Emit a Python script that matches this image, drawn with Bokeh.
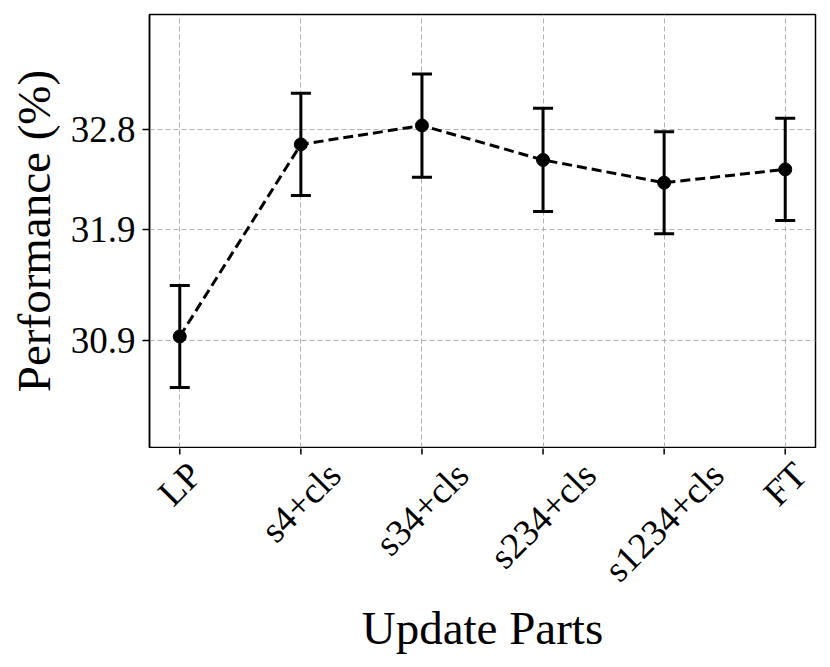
import math
from bokeh.plotting import figure
from bokeh.layouts import column
from bokeh.models import (ColumnDataSource, Range1d, FixedTicker, Whisker, TeeHead,
                          CustomLabelingPolicy)
from bokeh.core.properties import value
from bokeh.embed import file_html
from bokeh.resources import INLINE

# ---- data ----
parts = ["LP", "s4+cls", "s34+cls", "s234+cls", "s1234+cls", "FT"]
performance = [30.935, 32.665, 32.835, 32.525, 32.32, 32.44]
errors = [0.46, 0.46, 0.465, 0.465, 0.46, 0.46]
y_ticks = [30.9, 31.9, 32.8]

FONT = "Liberation Serif"
TICK_FS = 37
LABEL_FS = 47
W = 830
H1 = 448
H2 = 219
TICK_LEN = 7

xs = list(range(len(parts)))
upper = [m + e for m, e in zip(performance, errors)]
lower = [m - e for m, e in zip(performance, errors)]
y_lo = min(performance) - 1.0
y_hi = max(performance) + 1.0

hide_all = CustomLabelingPolicy(code="""
for (const i of indices) indices.unset(i)
return indices
""")

# ---------------- main plot ----------------
p = figure(width=W, height=H1, output_backend="svg", toolbar_location=None,
           x_range=Range1d(-0.25, len(parts) - 1 + 0.25),
           y_range=Range1d(y_lo, y_hi),
           min_border_left=149, min_border_right=15, min_border_top=14,
           min_border_bottom=1)
p.background_fill_color = "white"
p.border_fill_color = "white"
p.outline_line_color = "black"
p.outline_line_width = 1.5

for g in (p.xgrid, p.ygrid):
    g.grid_line_color = "#b0b0b0"
    g.grid_line_dash = "5 3"
    g.grid_line_width = 1

p.xaxis.ticker = FixedTicker(ticks=xs)
p.xaxis.visible = False          # ticks + labels are drawn in the strip below
p.yaxis.ticker = FixedTicker(ticks=y_ticks)
ax = p.yaxis
ax.axis_line_color = "black"
ax.axis_line_width = 1.5
ax.major_tick_line_color = "black"
ax.major_tick_line_width = 1.5
ax.major_tick_out = TICK_LEN
ax.major_tick_in = 0
ax.minor_tick_line_color = None
ax.major_label_text_font = FONT
ax.major_label_text_color = "black"
ax.major_label_text_font_size = f"{TICK_FS}px"
ax.major_label_standoff = 7
ax.axis_label = "Performance (%)"
ax.axis_label_text_font = FONT
ax.axis_label_text_font_size = f"{LABEL_FS}px"
ax.axis_label_text_font_style = "normal"
ax.axis_label_text_color = "black"
ax.axis_label_standoff = 8

src = ColumnDataSource(dict(x=xs, y=performance, upper=upper, lower=lower))
whisk = Whisker(base="x", upper="upper", lower="lower", source=src,
                line_color="black", line_width=3,
                upper_head=TeeHead(size=20, line_width=3, line_color="black"),
                lower_head=TeeHead(size=20, line_width=3, line_color="black"))
whisk.level = "glyph"
p.add_layout(whisk)
p.line("x", "y", source=src, line_color="black", line_width=3, line_dash="10 5")
p.scatter("x", "y", source=src, size=13, color="black")

# ---------------- x tick strip (shares the x scale; y in pixels from top) ----------------
B2 = 72
frame2 = H2 - B2
p2 = figure(width=W, height=H2, output_backend="svg", toolbar_location=None,
            x_range=p.x_range, y_range=Range1d(-frame2, 0), y_axis_type=None,
            min_border_left=149, min_border_right=15, min_border_top=0,
            min_border_bottom=B2)
p2.background_fill_color = "white"
p2.border_fill_color = "white"
p2.outline_line_color = None
p2.grid.visible = False
p2.xaxis.ticker = FixedTicker(ticks=[])
p2.xaxis.axis_line_color = None
p2.xaxis.major_tick_line_color = None
p2.xaxis.minor_tick_line_color = None
p2.xaxis.major_label_policy = hide_all
p2.xaxis.axis_label = "Update Parts"
p2.xaxis.axis_label_text_font = FONT
p2.xaxis.axis_label_text_font_size = f"{LABEL_FS}px"
p2.xaxis.axis_label_text_font_style = "normal"
p2.xaxis.axis_label_text_color = "black"
p2.xaxis.axis_label_standoff = 6

# tick marks under the main frame
p2.segment(x0=xs, y0=[1] * len(xs), x1=xs, y1=[-(TICK_LEN - 1)] * len(xs),
           line_color="black", line_width=1.5)

# matplotlib-style: rotated label box centred under its tick, top just below the ticks
char_w = {"L": .611, "P": .556, "s": .389, "4": .5, "+": .564, "c": .444,
          "l": .278, "3": .5, "2": .5, "1": .5, "F": .556, "T": .611}
h_vis = 0.7 * TICK_FS
pad = 11
ys = []
for t in parts:
    L = sum(char_w.get(ch, 0.5) for ch in t) * TICK_FS
    ys.append(-(pad + (L + h_vis) / (2 * math.sqrt(2))))
lab_src = ColumnDataSource(dict(x=xs, y=ys, text=parts))
p2.text(x="x", y="y", text="text", source=lab_src, angle=math.pi / 4,
        text_align="center", text_baseline="middle",
        text_font=value(FONT), text_font_size=f"{TICK_FS}px", text_color="black")

layout = column(p, p2, spacing=0)
open("out.html", "w").write(file_html(layout, INLINE))
